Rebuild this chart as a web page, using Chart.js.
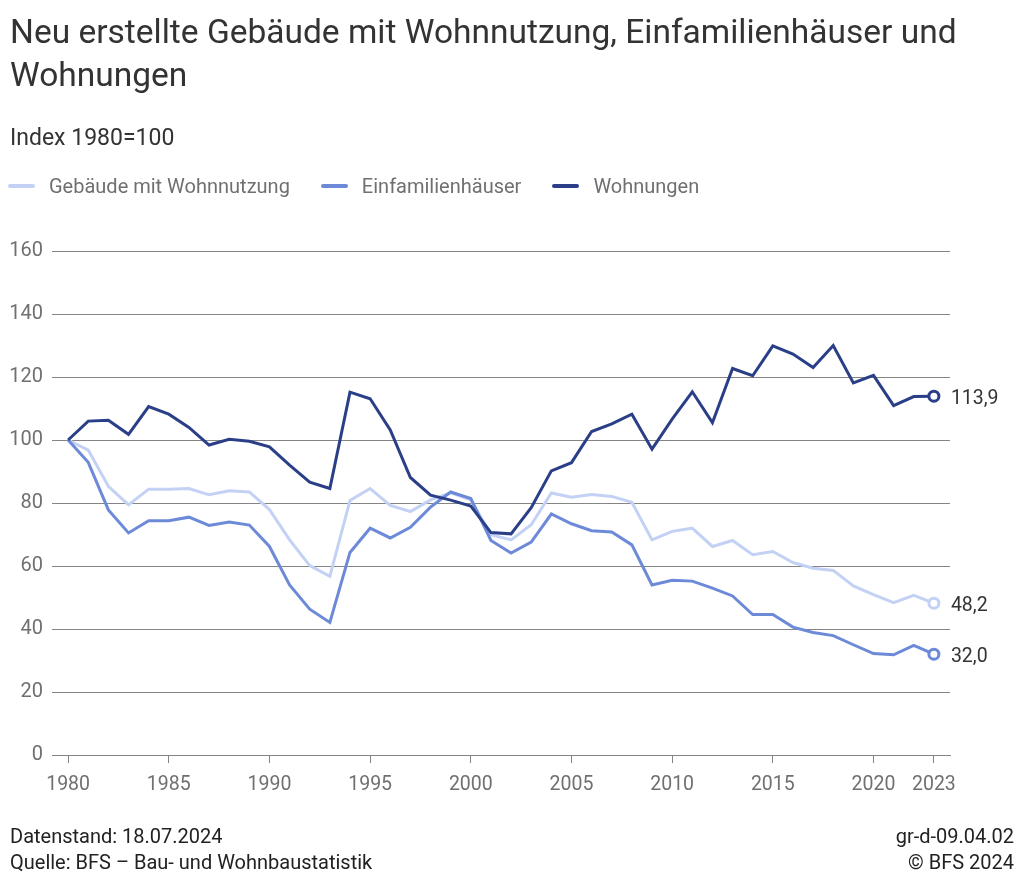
<!DOCTYPE html>
<html><head><meta charset="utf-8">
<script src="https://cdn.jsdelivr.net/npm/chart.js@4"></script>
<style>
html,body{margin:0;padding:0;background:#fff;}
body{width:1024px;height:886px;position:relative;overflow:hidden;font-family:Roboto, sans-serif;}
canvas{position:absolute;left:0;top:0;}
.t{position:absolute;white-space:nowrap;}
#title{left:10px;top:10px;font-size:33.5px;line-height:43px;color:#333;}
#sub{left:10px;top:124px;font-size:23px;line-height:28px;color:#333;}
#legend{left:8px;top:174px;font-size:20px;line-height:24px;color:#707070;display:flex;align-items:center;}
#legend .it{display:flex;align-items:center;margin-right:31px;}
#legend .sw{display:inline-block;width:27px;height:3.5px;border-radius:2px;margin-right:14px;}
#foot{left:10px;top:823px;font-size:20px;line-height:26px;color:#222;}
#foot2{right:10px;top:823px;font-size:20px;line-height:26px;color:#222;text-align:right;}
</style>
</head><body>
<canvas id="c" width="1024" height="886"></canvas>
<div class="t" id="title">Neu erstellte Gebäude mit Wohnnutzung, Einfamilienhäuser und<br>Wohnungen</div>
<div class="t" id="sub">Index 1980=100</div>
<div class="t" id="legend"></div>
<div class="t" id="foot">Datenstand: 18.07.2024<br>Quelle: BFS – Bau- und Wohnbaustatistik</div>
<div class="t" id="foot2">gr-d-09.04.02<br>© BFS 2024</div>
<script>
const years = [1980,1981,1982,1983,1984,1985,1986,1987,1988,1989,1990,1991,1992,1993,1994,1995,1996,1997,1998,1999,2000,2001,2002,2003,2004,2005,2006,2007,2008,2009,2010,2011,2012,2013,2014,2015,2016,2017,2018,2019,2020,2021,2022,2023];
const gebaeude = [100,96.8,85.3,79.4,84.4,84.4,84.6,82.6,83.9,83.5,77.9,68.3,60.1,56.7,80.8,84.6,79.2,77.3,81,83.2,81,69.9,68.3,73.1,83.2,81.8,82.7,82.1,80.2,68.3,71,72,66.2,68.1,63.6,64.6,61.1,59.3,58.6,53.7,50.9,48.4,50.7,48.2];
const einfamilienhaeuser = [100,92.9,77.8,70.5,74.4,74.4,75.5,72.9,74,73,66.2,54,46.3,42.1,64.3,72,68.9,72.3,78.7,83.5,81.4,68.1,64.1,67.6,76.5,73.4,71.2,70.8,66.7,54,55.5,55.2,53,50.5,44.6,44.6,40.6,38.9,37.9,35,32.2,31.8,34.8,32.0];
const wohnungen = [100,106,106.3,101.8,110.6,108.2,104,98.4,100.2,99.6,97.8,92,86.6,84.6,115.2,113.1,103.2,88.1,82.5,80.9,79,70.6,70.2,78.5,90.2,92.8,102.7,105.1,108.2,97.1,106.6,115.3,105.5,122.7,120.4,129.9,127.3,123,130,118.1,120.5,110.9,113.8,113.9];
const seriesNames = ["Gebäude mit Wohnnutzung","Einfamilienhäuser","Wohnungen"];
const xTickYears = [1980,1985,1990,1995,2000,2005,2010,2015,2020,2023];
const yTickValues = [0,20,40,60,80,100,120,140,160];

const colors = ["#c3d1f4","#6c8ad8","#2a3f88"];
const seriesValues = [gebaeude, einfamilienhaeuser, wohnungen];

const leg = document.getElementById('legend');
seriesNames.forEach((n,i)=>{
  const d=document.createElement('span'); d.className='it';
  d.innerHTML='<span class="sw" style="background:'+colors[i]+'"></span>'+n;
  leg.appendChild(d);
});

const datasets = seriesValues.map((vals,i)=>({
  label: seriesNames[i],
  data: vals.map((v,j)=>({x:years[j], y:v})),
  borderColor: colors[i],
  backgroundColor: colors[i],
  borderWidth: 3,
  tension: 0,
  order: 3-i,
  pointRadius: ctx => ctx.dataIndex === vals.length-1 ? 5 : 0,
  pointHoverRadius: 0,
  pointBorderWidth: 3,
  pointBackgroundColor: '#fff',
  pointBorderColor: colors[i],
  clip: false
}));

const endLabels = {
  id:'endLabels',
  afterDatasetsDraw(chart){
    const ctx=chart.ctx;
    chart.data.datasets.forEach((ds,i)=>{
      const meta=chart.getDatasetMeta(i);
      const pt=meta.data[meta.data.length-1];
      const v=ds.data[ds.data.length-1].y;
      ctx.save();
      ctx.font='19.5px Roboto';
      ctx.fillStyle='#333';
      ctx.textBaseline='middle';
      ctx.textAlign='left';
      ctx.fillText(v.toFixed(1).replace('.',','), pt.x+17, pt.y+2.5);
      ctx.restore();
    });
  }
};

new Chart(document.getElementById('c'), {
  type:'line',
  data:{datasets},
  plugins:[endLabels],
  options:{
    responsive:false,
    animation:false,
    devicePixelRatio:1,
    layout:{padding:{top:251,right:74,bottom:91,left:0}},
    plugins:{legend:{display:false},tooltip:{enabled:false}},
    scales:{
      x:{
        type:'linear', min:1979.2, max:2023.8,
        afterBuildTicks: s => { s.ticks = xTickYears.map(v=>({value:v})); },
        afterFit: s => { s.height = 40; },
        ticks:{autoSkip:false, maxRotation:0, padding:10, color:'#707070', font:{family:'Roboto', size:19.5}, callback: v => String(v)},
        grid:{drawOnChartArea:false, drawTicks:true, tickLength:8, color:'#858585', lineWidth:1},
        border:{display:true, color:'#858585', width:1}
      },
      y:{
        min:0, max:160,
        afterBuildTicks: s => { s.ticks = yTickValues.map(v=>({value:v})); },
        afterFit: s => { s.width = 52; },
        ticks:{padding:9, color:'#707070', font:{family:'Roboto', size:20}},
        grid:{color:'#858585', lineWidth:1, drawTicks:false},
        border:{display:false}
      }
    }
  }
});
</script>
</body></html>
